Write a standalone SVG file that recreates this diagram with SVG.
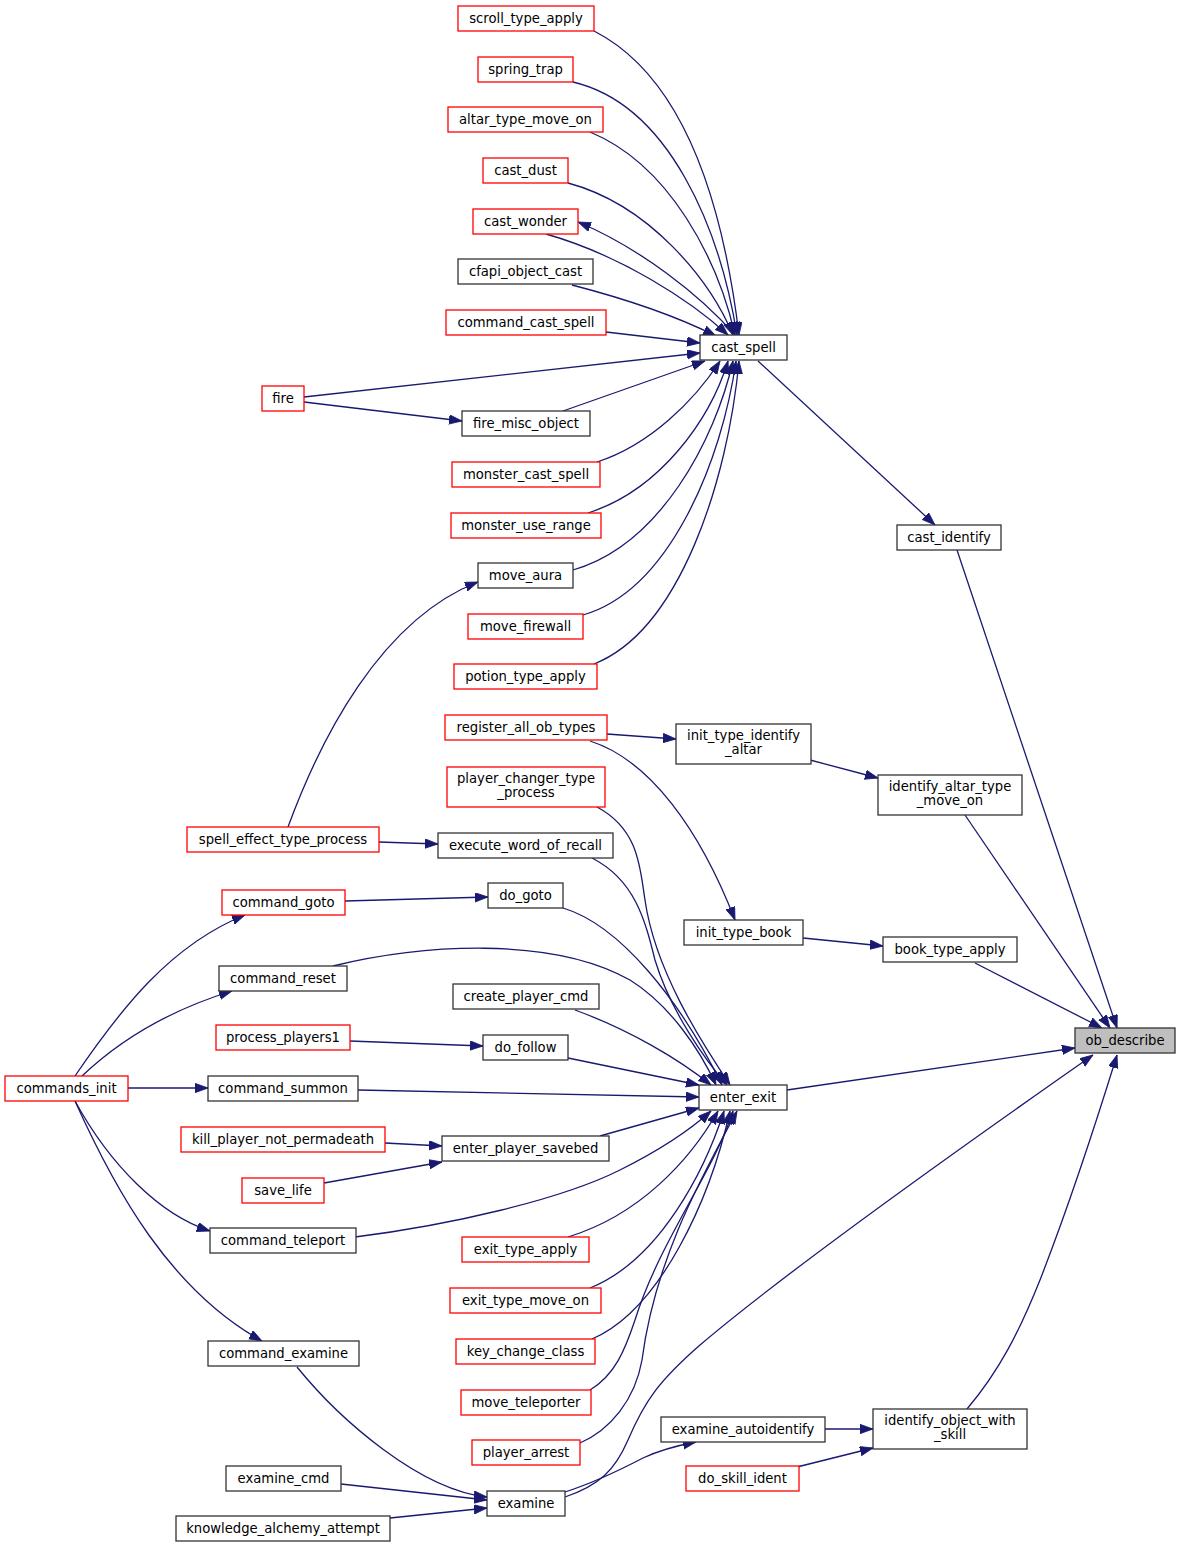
<svg xmlns="http://www.w3.org/2000/svg" width="1180" height="1548" viewBox="0 0 1180 1548">
<style>
.n rect{fill:#ffffff;stroke:#333333;stroke-width:1.3}
.r rect{stroke:#ff0000}
.g rect{fill:#bfbfbf}
text{font-family:"DejaVu Sans","Liberation Sans",sans-serif;font-size:13.2px;fill:#000;text-anchor:middle}
.e path{fill:none;stroke:#191970;stroke-width:1.3;marker-end:url(#ah)}
</style>
<defs>
<marker id="ah" markerUnits="userSpaceOnUse" markerWidth="14" markerHeight="10" refX="13" refY="4.7" orient="auto">
<path d="M0,0 L13,4.7 L0,9.4 z" fill="#191970" stroke="#191970" stroke-width="0.8"/>
</marker>
</defs>
<rect width="1180" height="1548" fill="#ffffff"/>
<g class="e" id="edges">
<path d="M594,31 C690,80 725,220 739,335"/>
<path d="M573,82 C670,105 720,230 737,335"/>
<path d="M590,132 C670,165 718,260 735,335"/>
<path d="M568,183 C650,205 710,280 733,335"/>
<path d="M546,234 C620,255 690,300 728,335"/>
<path d="M735,335 C700,295 640,248 578,222"/>
<path d="M572,285 C630,300 680,318 716,336"/>
<path d="M606,332 L700,343"/>
<path d="M304,397 L700,353"/>
<path d="M304,402 L462,421"/>
<path d="M563,411 L705,361"/>
<path d="M597,462 C650,445 695,400 720,361"/>
<path d="M588,513 C660,490 710,420 728,361"/>
<path d="M573,570 C660,545 715,440 733,361"/>
<path d="M583,615 C670,590 722,460 736,361"/>
<path d="M594,664 C680,630 728,480 739,361"/>
<path d="M758,361 L935,525"/>
<path d="M957,550 L1117,1028"/>
<path d="M965,815 L1110,1028"/>
<path d="M975,963 L1102,1028"/>
<path d="M787,1090 L1075,1048"/>
<path d="M565,1497 C600,1485 615,1470 628,1440 C645,1400 660,1380 700,1345 C800,1260 1000,1120 1093,1055"/>
<path d="M967,1409 C1000,1370 1020,1330 1040,1280 C1075,1190 1100,1110 1117,1055"/>
<path d="M565,1492 C590,1484 620,1470 643,1458 C660,1450 675,1446 696,1442"/>
<path d="M825,1429 L873,1429"/>
<path d="M797,1467 L873,1448"/>
<path d="M297,1367 C340,1420 420,1490 487,1497"/>
<path d="M341,1484 L487,1500"/>
<path d="M390,1518 L487,1508"/>
<path d="M810,760 L878,778"/>
<path d="M607,734 L676,739"/>
<path d="M590,741 C650,760 700,830 735,920"/>
<path d="M803,938 L883,946"/>
<path d="M288,827 C320,740 380,620 478,582"/>
<path d="M379,842 L438,844"/>
<path d="M345,901 L488,897"/>
<path d="M75,1076 C120,1010 170,945 245,915"/>
<path d="M82,1076 C120,1040 170,1010 232,991"/>
<path d="M128,1088 L208,1088"/>
<path d="M75,1101 C110,1165 160,1215 210,1231"/>
<path d="M75,1101 C115,1190 170,1290 262,1341"/>
<path d="M350,1041 L483,1046"/>
<path d="M385,1143 L442,1146"/>
<path d="M324,1183 L442,1162"/>
<path d="M597,807 C640,830 640,870 645,900 C655,970 700,1040 730,1085"/>
<path d="M592,858 C635,880 645,920 655,960 C670,1010 705,1060 727,1085"/>
<path d="M563,908 C620,925 680,1000 722,1085"/>
<path d="M333,966 C420,945 550,935 630,980 C670,1005 700,1050 716,1085"/>
<path d="M575,1010 C630,1030 680,1060 711,1085"/>
<path d="M568,1058 L699,1085"/>
<path d="M358,1090 L699,1097"/>
<path d="M600,1136 L699,1108"/>
<path d="M355,1237 C450,1225 560,1200 620,1170 C660,1150 690,1130 711,1111"/>
<path d="M568,1237 C640,1215 690,1160 718,1111"/>
<path d="M590,1288 C660,1260 705,1170 724,1111"/>
<path d="M592,1339 C660,1310 710,1200 730,1111"/>
<path d="M590,1390 C615,1375 625,1350 635,1320 C660,1240 715,1170 733,1111"/>
<path d="M580,1443 C610,1430 635,1400 642,1360 C655,1260 700,1180 737,1111"/>
</g>
<g id="scroll_type_apply" class="n r"><rect x="458" y="6" width="136" height="25"/><text x="526" y="23">scroll_type_apply</text></g>
<g id="spring_trap" class="n r"><rect x="478" y="57" width="95" height="25"/><text x="525.5" y="74">spring_trap</text></g>
<g id="altar_type_move_on" class="n r"><rect x="448" y="107" width="155" height="25"/><text x="525.5" y="124">altar_type_move_on</text></g>
<g id="cast_dust" class="n r"><rect x="483" y="158" width="85" height="25"/><text x="525.5" y="175">cast_dust</text></g>
<g id="cast_wonder" class="n r"><rect x="473" y="209" width="105" height="25"/><text x="525.5" y="226">cast_wonder</text></g>
<g id="cfapi_object_cast" class="n"><rect x="458" y="259" width="135" height="25"/><text x="525.5" y="276">cfapi_object_cast</text></g>
<g id="command_cast_spell" class="n r"><rect x="446" y="310" width="160" height="25"/><text x="526" y="327">command_cast_spell</text></g>
<g id="cast_spell" class="n"><rect x="700" y="335" width="87" height="25"/><text x="743.5" y="352">cast_spell</text></g>
<g id="fire" class="n r"><rect x="262" y="386" width="42" height="25"/><text x="283" y="403">fire</text></g>
<g id="fire_misc_object" class="n"><rect x="462" y="411" width="128" height="25"/><text x="526" y="428">fire_misc_object</text></g>
<g id="monster_cast_spell" class="n r"><rect x="452" y="462" width="148" height="25"/><text x="526" y="479">monster_cast_spell</text></g>
<g id="monster_use_range" class="n r"><rect x="451" y="513" width="150" height="25"/><text x="526" y="530">monster_use_range</text></g>
<g id="move_aura" class="n"><rect x="478" y="563" width="95" height="25"/><text x="525.5" y="580">move_aura</text></g>
<g id="move_firewall" class="n r"><rect x="468" y="614" width="115" height="25"/><text x="525.5" y="631">move_firewall</text></g>
<g id="potion_type_apply" class="n r"><rect x="454" y="664" width="143" height="25"/><text x="525.5" y="681">potion_type_apply</text></g>
<g id="cast_identify" class="n"><rect x="897" y="525" width="104" height="25"/><text x="949" y="542">cast_identify</text></g>
<g id="register_all_ob_types" class="n r"><rect x="445" y="715" width="162" height="25"/><text x="526" y="732">register_all_ob_types</text></g>
<g id="init_type_identify_altar" class="n"><rect x="676" y="724" width="135" height="40"/><text x="743.5" y="740">init_type_identify</text><text x="743.5" y="754">_altar</text></g>
<g id="identify_altar_type_move_on" class="n"><rect x="878" y="775" width="144" height="40"/><text x="950" y="791">identify_altar_type</text><text x="950" y="805">_move_on</text></g>
<g id="player_changer_type_process" class="n r"><rect x="447" y="767" width="158" height="40"/><text x="526" y="783">player_changer_type</text><text x="526" y="797">_process</text></g>
<g id="spell_effect_type_process" class="n r"><rect x="187" y="827" width="192" height="25"/><text x="283" y="844">spell_effect_type_process</text></g>
<g id="execute_word_of_recall" class="n"><rect x="438" y="833" width="175" height="25"/><text x="525.5" y="850">execute_word_of_recall</text></g>
<g id="command_goto" class="n r"><rect x="222" y="890" width="123" height="25"/><text x="283.5" y="907">command_goto</text></g>
<g id="do_goto" class="n"><rect x="488" y="883" width="75" height="25"/><text x="525.5" y="900">do_goto</text></g>
<g id="init_type_book" class="n"><rect x="684" y="920" width="119" height="25"/><text x="743.5" y="937">init_type_book</text></g>
<g id="book_type_apply" class="n"><rect x="883" y="937" width="134" height="25"/><text x="950" y="954">book_type_apply</text></g>
<g id="command_reset" class="n"><rect x="219" y="966" width="128" height="25"/><text x="283" y="983">command_reset</text></g>
<g id="create_player_cmd" class="n"><rect x="453" y="984" width="146" height="25"/><text x="526" y="1001">create_player_cmd</text></g>
<g id="ob_describe" class="n g"><rect x="1075" y="1028" width="100" height="25"/><text x="1125" y="1045">ob_describe</text></g>
<g id="process_players1" class="n r"><rect x="216" y="1025" width="134" height="25"/><text x="283" y="1042">process_players1</text></g>
<g id="do_follow" class="n"><rect x="483" y="1035" width="85" height="25"/><text x="525.5" y="1052">do_follow</text></g>
<g id="commands_init" class="n r"><rect x="5" y="1076" width="123" height="25"/><text x="66.5" y="1093">commands_init</text></g>
<g id="command_summon" class="n"><rect x="208" y="1076" width="150" height="25"/><text x="283" y="1093">command_summon</text></g>
<g id="enter_exit" class="n"><rect x="699" y="1085" width="88" height="25"/><text x="743" y="1102">enter_exit</text></g>
<g id="kill_player_not_permadeath" class="n r"><rect x="181" y="1127" width="204" height="25"/><text x="283" y="1144">kill_player_not_permadeath</text></g>
<g id="enter_player_savebed" class="n"><rect x="442" y="1136" width="167" height="25"/><text x="525.5" y="1153">enter_player_savebed</text></g>
<g id="save_life" class="n r"><rect x="242" y="1178" width="82" height="25"/><text x="283" y="1195">save_life</text></g>
<g id="command_teleport" class="n"><rect x="210" y="1228" width="146" height="25"/><text x="283" y="1245">command_teleport</text></g>
<g id="exit_type_apply" class="n r"><rect x="462" y="1237" width="127" height="25"/><text x="525.5" y="1254">exit_type_apply</text></g>
<g id="exit_type_move_on" class="n r"><rect x="450" y="1288" width="151" height="25"/><text x="525.5" y="1305">exit_type_move_on</text></g>
<g id="command_examine" class="n"><rect x="208" y="1341" width="151" height="25"/><text x="283.5" y="1358">command_examine</text></g>
<g id="key_change_class" class="n r"><rect x="456" y="1339" width="139" height="25"/><text x="525.5" y="1356">key_change_class</text></g>
<g id="move_teleporter" class="n r"><rect x="461" y="1390" width="130" height="25"/><text x="526" y="1407">move_teleporter</text></g>
<g id="identify_object_with_skill" class="n"><rect x="873" y="1409" width="154" height="40"/><text x="950" y="1425">identify_object_with</text><text x="950" y="1439">_skill</text></g>
<g id="examine_autoidentify" class="n"><rect x="661" y="1417" width="164" height="25"/><text x="743" y="1434">examine_autoidentify</text></g>
<g id="player_arrest" class="n r"><rect x="472" y="1440" width="108" height="25"/><text x="526" y="1457">player_arrest</text></g>
<g id="do_skill_ident" class="n r"><rect x="686" y="1466" width="113" height="25"/><text x="742.5" y="1483">do_skill_ident</text></g>
<g id="examine_cmd" class="n"><rect x="226" y="1466" width="115" height="25"/><text x="283.5" y="1483">examine_cmd</text></g>
<g id="examine" class="n"><rect x="487" y="1491" width="78" height="25"/><text x="526" y="1508">examine</text></g>
<g id="knowledge_alchemy_attempt" class="n"><rect x="176" y="1516" width="214" height="25"/><text x="283" y="1533">knowledge_alchemy_attempt</text></g>
</svg>
